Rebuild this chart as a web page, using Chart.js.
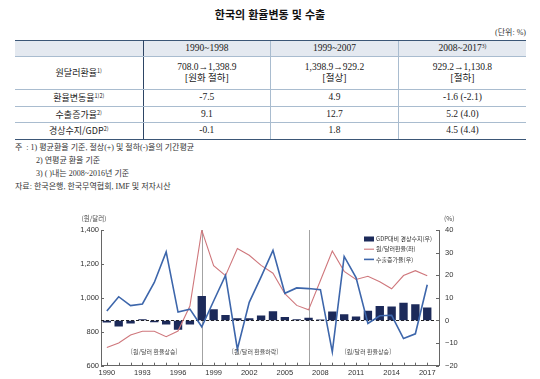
<!DOCTYPE html>
<html lang="ko">
<head>
<meta charset="utf-8">
<title>한국의 환율변동 및 수출</title>
<script src="https://cdn.jsdelivr.net/npm/chart.js@4.4.1/dist/chart.umd.min.js"></script>
<style>
  html, body { margin: 0; padding: 0; background: #fff; }
  body { width: 540px; height: 379px; position: relative; overflow: hidden;
         font-family: "Liberation Serif", "Noto Sans CJK KR", serif; color: #222; }
  #title { position: absolute; left: 0; top: 6px; width: 540px; text-align: center;
           font: bold 11px "Noto Sans CJK KR", sans-serif; color: #111; }
  #unit { position: absolute; right: 14px; top: 26px; font-size: 8px; color: #333; }
  table { position: absolute; left: 15px; top: 40px; width: 511px; border-collapse: collapse;
          table-layout: fixed; font-size: 9.5px; color: #222; }
  td, th { text-align: center; padding: 0; font-weight: normal; line-height: 11.5px;
           border-bottom: 1px solid #a9bccf; border-left: 1px solid #a9bccf; }
  th { background: #e4e9f0; height: 15px; }
  tr:first-child th { border-top: 1.5px solid #3b5676; }
  tr:last-child td { border-bottom: 1.5px solid #3b5676; }
  td:first-child, th:first-child { border-left: none; border-right: 1.5px solid #2d4565; }
  .lab { font-family: "Noto Sans CJK KR", sans-serif; font-size: 9px; }
  sup { font-size: 5.5px; vertical-align: 3px; line-height: 0; }
  #notes { position: absolute; left: 15px; top: 141px; font-size: 8px; line-height: 13px; color: #333; }
  #notes .ind { padding-left: 21px; }
  canvas { position: absolute; left: 0; top: 212px; }
</style>
</head>
<body>
<div id="title">한국의 환율변동 및 수출</div>
<div id="unit">(단위: %)</div>
<table>
  <colgroup><col style="width:128px"><col><col><col></colgroup>
  <tr><th></th><th>1990~1998</th><th>1999~2007</th><th>2008~2017<sup>3)</sup></th></tr>
  <tr style="height:33px"><td class="lab">원달러환율<sup>1)</sup></td><td>708.0→1,398.9<br>[원화 절하]</td><td>1,398.9→929.2<br>[절상]</td><td>929.2→1,130.8<br>[절하]</td></tr>
  <tr style="height:16.5px"><td class="lab">환율변동율<sup>1)2)</sup></td><td>-7.5</td><td>4.9</td><td>-1.6 (-2.1)</td></tr>
  <tr style="height:16.5px"><td class="lab">수출증가율<sup>2)</sup></td><td>9.1</td><td>12.7</td><td>5.2 (4.0)</td></tr>
  <tr style="height:16.5px"><td class="lab">경상수지/GDP<sup>2)</sup></td><td>-0.1</td><td>1.8</td><td>4.5 (4.4)</td></tr>
</table>
<div id="notes">
  <div>주&nbsp;&nbsp;: 1) 평균환율 기준, 절상(+) 및 절하(-)율의 기간평균</div>
  <div class="ind">2) 연평균 환율 기준</div>
  <div class="ind">3) ( )내는 2008~2016년 기준</div>
  <div>자료: 한국은행, 한국무역협회, IMF 및 저자시산</div>
</div>
<canvas id="chart" width="540" height="167"></canvas>

<script>
// ── 데이터 ──
const years = [1990, 1991, 1992, 1993, 1994, 1995, 1996, 1997, 1998, 1999,
               2000, 2001, 2002, 2003, 2004, 2005, 2006, 2007, 2008, 2009,
               2010, 2011, 2012, 2013, 2014, 2015, 2016, 2017];
// 원/달러 환율 (좌, 원)
const fxRate = [707.8, 733.4, 780.7, 802.7, 803.4, 771.3, 804.5, 951.3, 1398.9, 1189.5,
                1130.6, 1290.8, 1251.1, 1191.6, 1145.3, 1024.1, 955.5, 929.2, 1102.6, 1276.4,
                1156.3, 1108.1, 1126.9, 1095.0, 1053.2, 1131.5, 1160.5, 1130.8];
// 수출증가율 (우, %)
const exportGrowth = [4.2, 10.5, 6.6, 7.3, 16.8, 30.3, 3.7, 5.0, -2.8, 8.6,
                      19.9, -12.7, 8.0, 19.3, 31.0, 12.0, 14.4, 14.1, 13.6, -13.9,
                      28.3, 19.0, -1.3, 2.1, 2.3, -8.0, -5.9, 15.8];
// GDP대비 경상수지 (우, %)
const caGdp = [-0.8, -2.5, -1.2, 0.4, -0.6, -1.6, -4.0, -1.6, 10.7, 4.8,
               2.3, 0.8, 0.8, 2.0, 3.9, 1.4, 0.4, 1.1, 0.3, 3.8,
               2.6, 1.6, 4.2, 6.2, 6.0, 7.7, 7.0, 5.6];

const seriesLabels = ['GDP대비 경상수지(우)', '원/달러환율(좌)', '수출증가율(우)'];
const xLabelYears = [1990, 1993, 1996, 1999, 2002, 2005, 2008, 2011, 2014, 2017];
const periodBreaks = [1998, 2007];
const periodCenters = [1994, 2002.5, 2012];
const periodLabels = ['[원/달러 환율상승]', '[원/달러 환율하락]', '[원/달러 환율상승]'];

const NAVY = '#1c2a5a', RED = '#cf777c', BLUE = '#3d66ab', AXIS = '#666';
const KFONT = '"Noto Sans CJK KR", sans-serif';
const toXY = arr => years.map((yr, i) => ({ x: yr, y: arr[i] }));

// ── 보조 그리기 (구분선, 0선, 눈금, 주석, 범례) ──
const decor = {
  id: 'decor',
  beforeDatasetsDraw(chart) {
    const { ctx, chartArea: a, scales: { x, y1 } } = chart;
    ctx.save();
    ctx.lineWidth = 1;
    ctx.strokeStyle = '#a3a3a3';
    periodBreaks.forEach(v => {
      const px = Math.round(x.getPixelForValue(v)) + 0.5;
      ctx.beginPath(); ctx.moveTo(px, a.top); ctx.lineTo(px, a.bottom); ctx.stroke();
    });
    const zy = Math.round(y1.getPixelForValue(0)) + 0.5;
    ctx.strokeStyle = '#222';
    ctx.setLineDash([3, 2]);
    ctx.beginPath(); ctx.moveTo(a.left, zy); ctx.lineTo(a.right, zy); ctx.stroke();
    ctx.restore();
  },
  afterDraw(chart) {
    const { ctx, chartArea: a, scales: { x, y, y1 } } = chart;
    ctx.save();
    ctx.strokeStyle = AXIS; ctx.lineWidth = 1;
    // 안쪽 눈금
    years.forEach(v => {
      const px = Math.round(x.getPixelForValue(v)) + 0.5;
      ctx.beginPath(); ctx.moveTo(px, a.bottom); ctx.lineTo(px, a.bottom - 3); ctx.stroke();
    });
    y.ticks.forEach(t => {
      const py = Math.round(y.getPixelForValue(t.value)) + 0.5;
      ctx.beginPath(); ctx.moveTo(a.left, py); ctx.lineTo(a.left + 3, py); ctx.stroke();
    });
    y1.ticks.forEach(t => {
      const py = Math.round(y1.getPixelForValue(t.value)) + 0.5;
      ctx.beginPath(); ctx.moveTo(a.right, py); ctx.lineTo(a.right - 3, py); ctx.stroke();
    });
    // 기간 주석
    ctx.fillStyle = '#444';
    ctx.font = '6px ' + KFONT;
    ctx.textAlign = 'center'; ctx.textBaseline = 'middle';
    periodCenters.forEach((v, i) => ctx.fillText(periodLabels[i], x.getPixelForValue(v), a.bottom - 14));
    // 축 제목
    ctx.font = '6.5px ' + KFONT;
    ctx.fillText('(원/달러)', a.left - 7, a.top - 11);
    ctx.textAlign = 'left';
    ctx.fillText('(%)', a.right + 5, a.top - 11);
    // 범례
    const lx = a.right - 75, ly = a.top + 9;
    ctx.font = '6px ' + KFONT;
    chart.data.datasets.forEach((ds, i) => {
      const ry = ly + i * 10.2;
      if (ds.type === 'bar') {
        ctx.fillStyle = ds.backgroundColor;
        ctx.fillRect(lx, ry - 2.5, 10, 5);
      } else {
        ctx.strokeStyle = ds.borderColor; ctx.lineWidth = ds.borderWidth;
        ctx.beginPath(); ctx.moveTo(lx, ry); ctx.lineTo(lx + 10, ry); ctx.stroke();
      }
      ctx.fillStyle = '#333';
      ctx.fillText(ds.label, lx + 12, ry);
    });
    ctx.restore();
  }
};

new Chart(document.getElementById('chart'), {
  data: {
    datasets: [
      { type: 'bar', label: seriesLabels[0], data: toXY(caGdp), yAxisID: 'y1',
        backgroundColor: NAVY, barThickness: 7.7, order: 3 },
      { type: 'line', label: seriesLabels[1], data: toXY(fxRate), yAxisID: 'y',
        borderColor: RED, borderWidth: 1.1, pointRadius: 0, tension: 0, order: 2 },
      { type: 'line', label: seriesLabels[2], data: toXY(exportGrowth), yAxisID: 'y1',
        borderColor: BLUE, borderWidth: 1.6, pointRadius: 0, tension: 0, order: 1 }
    ]
  },
  options: {
    responsive: false,
    animation: false,
    events: [],
    layout: { autoPadding: false, padding: { top: 18, left: 0, right: 0, bottom: 0 } },
    plugins: { legend: { display: false }, tooltip: { enabled: false } },
    scales: {
      x: {
        type: 'linear', position: 'bottom', min: 1990, max: 2017.5,
        afterBuildTicks: s => { s.ticks = years.concat([s.max]).map(v => ({ value: v })); },
        afterFit: s => { s.height = 13.3; },
        grid: { drawOnChartArea: false, drawTicks: false },
        border: { color: AXIS, width: 1 },
        ticks: {
          autoSkip: false, maxRotation: 0, padding: 3,
          color: '#333', font: { family: 'Liberation Sans', size: 7.5 },
          callback: v => xLabelYears.includes(v) ? String(v) : ''
        }
      },
      y: {
        position: 'left', min: 600, max: 1400,
        afterFit: s => { s.width = 101; },
        grid: { drawOnChartArea: false, drawTicks: false },
        border: { color: AXIS, width: 1 },
        ticks: {
          stepSize: 200, padding: 2, color: '#333',
          font: { family: 'Liberation Sans', size: 7.5 },
          callback: v => v.toLocaleString('en-US')
        }
      },
      y1: {
        position: 'right', min: -20, max: 40,
        afterFit: s => { s.width = 101; },
        grid: { drawOnChartArea: false, drawTicks: false },
        border: { color: AXIS, width: 1 },
        ticks: {
          stepSize: 10, padding: 6, color: '#333',
          font: { family: 'Liberation Sans', size: 7.5 },
          callback: v => v < 0 ? '−' + Math.abs(v) : String(v)
        }
      }
    }
  },
  plugins: [decor]
});
</script>
</body>
</html>
